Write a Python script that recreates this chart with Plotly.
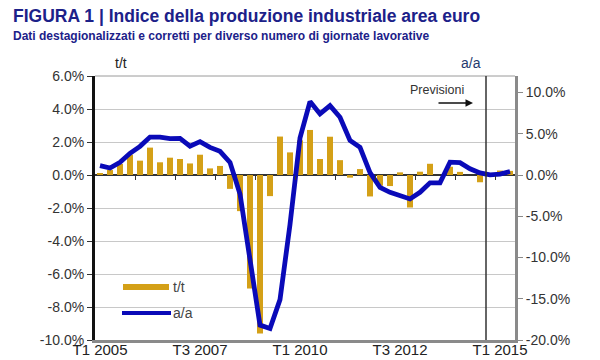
import plotly.graph_objects as go

# ---- data ----
quarter_index = list(range(42))  # T1 2005 ... T2 2015
tt_values = [0.12, 0.30, 0.67, 1.23, 0.87, 1.66, 0.77, 1.05, 0.97, 0.70,
             1.23, 0.40, 0.55, -0.84, -2.19, -6.88, -9.60, -1.28, 2.33, 1.37,
             2.10, 2.73, 0.97, 2.32, 0.90, -0.16, 0.36, -1.30, -0.65, -0.67,
             0.16, -1.97, 0.20, 0.68, 0.00, 0.50, 0.19, 0.00, -0.44, 0.00,
             0.27, 0.25]
aa_values = [1.13, 0.85, 1.53, 2.63, 3.47, 4.60, 4.60, 4.40, 4.44, 3.50,
             4.04, 3.35, 2.87, 1.53, -2.30, -9.80, -18.2, -18.6, -15.1, -6.0,
             4.50, 8.90, 7.40, 8.40, 7.00, 4.20, 3.35, 0.30, -1.50, -2.10,
             -2.50, -2.90, -2.10, -0.95, -0.95, 1.56, 1.50, 0.76, 0.26, 0.02,
             0.10, 0.42]
x_tick_vals = [0, 10, 20, 30, 40]
x_tick_text = ["T1 2005", "T3 2007", "T1 2010", "T3 2012", "T1 2015"]
left_tick_vals = [6, 4, 2, 0, -2, -4, -6, -8, -10]
left_tick_text = ["6.0%", "4.0%", "2.0%", "0.0%", "-2.0%", "-4.0%", "-6.0%", "-8.0%", "-10.0%"]
right_tick_vals = [10, 5, 0, -5, -10, -15, -20]
right_tick_text = ["10.0%", "5.0%", "0.0%", "-5.0%", "-10.0%", "-15.0%", "-20.0%"]
year_boundaries = [3.5 + 4 * i for i in range(10)]
forecast_start = 38.6

BAR_COLOR = "#D4A017"
LINE_COLOR = "#0A0AB8"
TITLE_COLOR = "#1C2189"
FONT = "Liberation Sans, Arial, sans-serif"

# plot area in pixels
L, R, T, B = 95, 515, 76, 340
W, H = 600, 360
def px(x):
    return (x - L) / (R - L)
def py(y):
    return (B - y) / (B - T)

fig = go.Figure()
fig.add_trace(go.Bar(x=quarter_index, y=tt_values, marker_color=BAR_COLOR,
                     marker_line_width=0, width=0.6, yaxis="y", name="t/t",
                     showlegend=False))
fig.add_trace(go.Scatter(x=quarter_index, y=aa_values, mode="lines",
                         line=dict(color=LINE_COLOR, width=4.8), yaxis="y2",
                         name="a/a", showlegend=False))
# dummy trace to carry the tick marks along the zero line
fig.add_trace(go.Scatter(x=[0], y=[None], xaxis="x2", yaxis="y",
                         showlegend=False, hoverinfo="skip"))

fig.update_layout(
    template="none",
    width=W, height=H,
    margin=dict(l=L, r=W - R, t=T, b=H - B, autoexpand=False),
    paper_bgcolor="white", plot_bgcolor="white",
    font=dict(family=FONT, color="#333333", size=14),
    bargap=0.4,
    xaxis=dict(range=[-0.5, 41.5], tickvals=x_tick_vals, ticktext=x_tick_text,
               showgrid=False, zeroline=False, showline=True, automargin=False,
               linecolor="#8A8A8A", linewidth=3, ticks="",
               ticklabelstandoff=-6,
               tickfont=dict(size=15, color="#222222")),
    xaxis2=dict(range=[-0.5, 41.5], overlaying="x", anchor="free",
                position=10 / 16, tickvals=year_boundaries, ticks="outside",
                ticklen=4, tickwidth=1, tickcolor="#333333", automargin=False,
                showticklabels=False, showgrid=False, zeroline=False,
                showline=False),
    yaxis=dict(range=[-10, 6], tickvals=left_tick_vals, ticktext=left_tick_text,
               showgrid=True, gridcolor="#C8C8C8", gridwidth=1, automargin=False,
               zeroline=True, zerolinecolor="#333333", zerolinewidth=1.5,
               showline=True, linecolor="#111111", linewidth=3,
               ticks="outside", ticklen=5, tickcolor="#333333",
               tickfont=dict(size=14, color="#333333")),
    yaxis2=dict(range=[-20, 12], overlaying="y", side="right",
                tickvals=right_tick_vals, ticktext=right_tick_text,
                showgrid=False, zeroline=False, showline=True, automargin=False,
                linecolor="#8A8A8A", linewidth=3, ticks="outside",
                ticklen=5, tickcolor="#8A8A8A",
                tickfont=dict(size=14, color="#333333")),
)

shapes = [
    # top border
    dict(type="line", xref="paper", yref="paper", x0=0, x1=1, y0=1, y1=1,
         line=dict(color="#9A9A9A", width=1)),
    # forecast line
    dict(type="line", xref="x", yref="paper", x0=forecast_start, x1=forecast_start,
         y0=0, y1=1, line=dict(color="#333333", width=1.5)),
    # legend swatches
    dict(type="rect", xref="paper", yref="paper", x0=px(123), x1=px(169),
         y0=py(290), y1=py(284), fillcolor=BAR_COLOR, line=dict(width=0)),
    dict(type="line", xref="paper", yref="paper", x0=px(122), x1=px(171),
         y0=py(313), y1=py(313), line=dict(color=LINE_COLOR, width=4)),
]

annotations = [
    dict(text="<b>FIGURA 1 | Indice della produzione industriale area euro</b>",
         xref="paper", yref="paper", x=px(11), y=py(16), xanchor="left",
         yanchor="middle", showarrow=False,
         font=dict(size=17.5, color=TITLE_COLOR, family=FONT)),
    dict(text="<b>Dati destagionalizzati e corretti per diverso numero di giornate lavorative</b>",
         xref="paper", yref="paper", x=px(11), y=py(36), xanchor="left",
         yanchor="middle", showarrow=False,
         font=dict(size=12, color=TITLE_COLOR, family=FONT)),
    dict(text="t/t", xref="paper", yref="paper", x=px(121), y=py(63),
         xanchor="center", yanchor="middle", showarrow=False,
         font=dict(size=14, color="#222222")),
    dict(text="a/a", xref="paper", yref="paper", x=px(471), y=py(63),
         xanchor="center", yanchor="middle", showarrow=False,
         font=dict(size=14, color="#1F3A6E")),
    dict(text="Previsioni", xref="paper", yref="paper", x=px(437), y=py(90),
         xanchor="center", yanchor="middle", showarrow=False,
         font=dict(size=12.5, color="#333333")),
    dict(text="", xref="paper", yref="paper", x=px(473), y=py(103),
         ax=-36, ay=0, showarrow=True, arrowhead=2, arrowsize=1,
         arrowwidth=1.5, arrowcolor="#111111"),
    dict(text="t/t", xref="paper", yref="paper", x=px(171), y=py(287),
         xanchor="left", yanchor="middle", showarrow=False,
         font=dict(size=14, color="#444444")),
    dict(text="a/a", xref="paper", yref="paper", x=px(171), y=py(313),
         xanchor="left", yanchor="middle", showarrow=False,
         font=dict(size=14, color="#444444")),
]

fig.update_layout(shapes=shapes, annotations=annotations)
fig.write_html("out.html", config={"displayModeBar": False},
               post_script="document.body.style.margin='0';document.body.style.padding='0';")
